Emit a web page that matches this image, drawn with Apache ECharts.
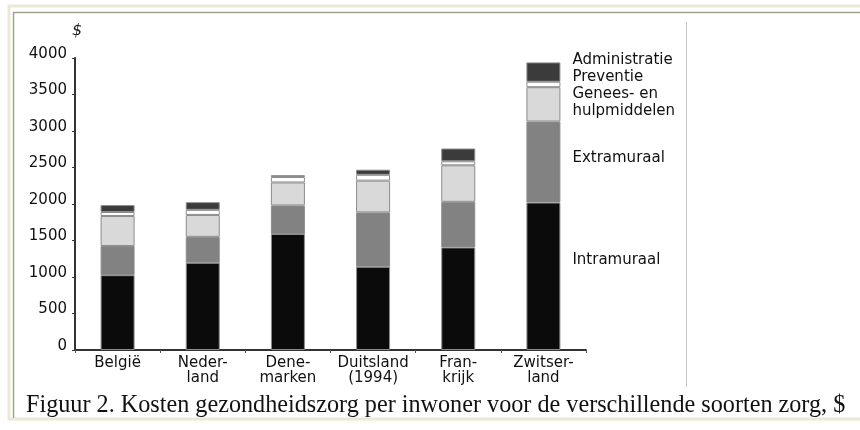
<!DOCTYPE html>
<html>
<head>
<meta charset="utf-8">
<script src="https://cdn.jsdelivr.net/npm/echarts@6/dist/echarts.min.js"></script>
<style>
html,body{margin:0;padding:0;background:#fff;}
#c{width:860px;height:430px;}
</style>
</head>
<body>
<div id="c"></div>
<script>
// ---- data ----
var countries = ['België', 'Neder-\nland', 'Dene-\nmarken', 'Duitsland\n(1994)', 'Fran-\nkrijk', 'Zwitser-\nland'];
var seriesNames = ['Intramuraal', 'Extramuraal', 'Genees- en\nhulpmiddelen', 'Preventie', 'Administratie'];
var intramuraal = [1025, 1195, 1590, 1140, 1405, 2020];
var extramuraal = [400, 355, 390, 745, 625, 1110];
var genees = [410, 300, 315, 435, 500, 470];
var preventie = [55, 70, 75, 80, 55, 75];
var administratie = [95, 105, 25, 70, 175, 265];
var yTicks = [0, 500, 1000, 1500, 2000, 2500, 3000, 3500, 4000];
var captionText = 'Figuur 2. Kosten gezondheidszorg per inwoner voor de verschillende soorten zorg, $';

var FONT = 'DejaVu Sans';
var colors = ['#0b0b0b', '#828282', '#d9d9d9', '#ffffff', '#3b3b3b'];
var labelOffsets = [-16, -4, -2, -7, -12];
var values = [intramuraal, extramuraal, genees, preventie, administratie];

function makeSeries(i) {
  var last = countries.length - 1;
  return {
    name: seriesNames[i],
    type: 'bar',
    stack: 'total',
    barWidth: 34,
    itemStyle: { color: colors[i], borderColor: '#8c8c8c', borderWidth: 1 },
    data: values[i].map(function (v, k) {
      var d = { value: v };
      if (k === last) {
        d.label = {
          show: true,
          position: 'right',
          distance: 12,
          offset: [0, labelOffsets[i]],
          formatter: seriesNames[i],
          fontFamily: FONT,
          fontSize: 15,
          lineHeight: 17,
          color: '#111'
        };
      }
      return d;
    }),
    emphasis: { disabled: true },
    animation: false
  };
}

var chart = echarts.init(document.getElementById('c'), null, { renderer: 'canvas' });
chart.setOption({
  animation: false,
  backgroundColor: '#ffffff',
  grid: { left: 75, right: 274, top: 58, bottom: 80, containLabel: false },
  xAxis: {
    type: 'category',
    data: countries,
    boundaryGap: true,
    axisLine: { show: true, lineStyle: { color: '#333', width: 2 } },
    axisTick: { show: true, length: 3, alignWithLabel: false, lineStyle: { color: '#555' } },
    axisLabel: { margin: 6, fontFamily: FONT, fontSize: 15, lineHeight: 15, color: '#111', interval: 0 }
  },
  yAxis: {
    type: 'value',
    min: yTicks[0],
    max: yTicks[yTicks.length - 1],
    interval: yTicks[1] - yTicks[0],
    name: '$',
    nameLocation: 'end',
    nameGap: 19,
    nameTextStyle: { fontFamily: FONT, fontSize: 16, fontStyle: 'italic', color: '#222', align: 'left', padding: [0, 0, 0, -3] },
    axisLine: { show: true, lineStyle: { color: '#333', width: 2 } },
    axisTick: { show: true, length: 3, lineStyle: { color: '#333' } },
    splitLine: { show: false },
    axisLabel: {
      margin: 8, fontFamily: FONT, fontSize: 15, color: '#111',
      verticalAlign: 'bottom', lineHeight: 8,
      formatter: function (v) { return String(v); }
    }
  },
  series: [0, 1, 2, 3, 4].map(makeSeries),
  graphic: [
    { type: 'rect', silent: true, shape: { x: 9, y: 6, width: 900, height: 413 }, style: { fill: null, stroke: '#ebe8d6', lineWidth: 3 }, z: -1 },
    { type: 'line', silent: true, shape: { x1: 13, y1: 12.5, x2: 860, y2: 12.5 }, style: { stroke: '#a3a290', lineWidth: 1.5 } },
    { type: 'line', silent: true, shape: { x1: 13.5, y1: 12, x2: 13.5, y2: 418 }, style: { stroke: '#a3a290', lineWidth: 1.5 } },
    { type: 'line', silent: true, shape: { x1: 686.5, y1: 22, x2: 686.5, y2: 387 }, style: { stroke: '#c4c4c4', lineWidth: 1 } },
    { type: 'text', silent: true, left: 26, top: 394, style: { text: captionText, font: '24.2px "Liberation Serif", "Times New Roman", serif', fill: '#111' } }
  ]
});
</script>
</body>
</html>
